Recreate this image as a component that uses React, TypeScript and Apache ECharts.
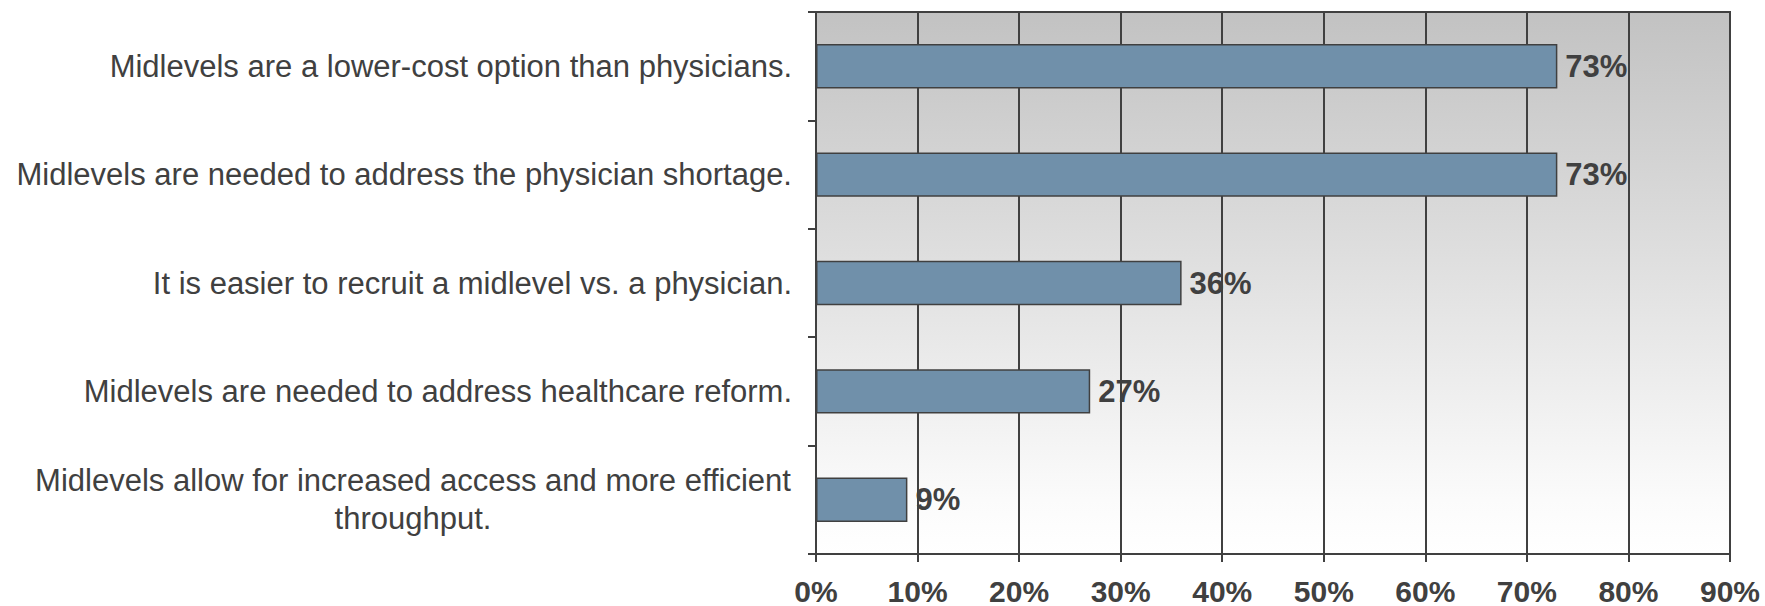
import React, { useEffect, useRef } from "react";
import * as echarts from "echarts";

const categories = [
  "Midlevels are a lower-cost option than physicians.",
  "Midlevels are needed to address the physician shortage.",
  "It is easier to recruit a midlevel vs. a physician.",
  "Midlevels are needed to address healthcare reform.",
  "Midlevels allow for increased access and more efficient\nthroughput.",
];
const values = [73, 73, 36, 27, 9];
const xTicks = [0, 10, 20, 30, 40, 50, 60, 70, 80, 90];

const DARK = "#404040";
const FONT = "Liberation Sans, Arial, sans-serif";
const CAT_SIZE = 31;

export default function App() {
  const ref = useRef<HTMLDivElement>(null);
  useEffect(() => {
    if (!ref.current) return;
    const chart = echarts.init(ref.current, undefined, { renderer: "svg" });
    chart.setOption({
      animation: false,
      grid: {
        left: 816,
        right: 35,
        top: 12,
        bottom: 52,
        show: true,
        borderColor: DARK,
        borderWidth: 2,
        backgroundColor: new echarts.graphic.LinearGradient(0, 0, 0, 1, [
          { offset: 0, color: "#C2C2C2" },
          { offset: 0.9, color: "#FBFBFB" },
          { offset: 1, color: "#FFFFFF" },
        ]),
      },
      xAxis: {
        type: "value",
        min: xTicks[0],
        max: xTicks[xTicks.length - 1],
        interval: 10,
        axisLine: { show: true, lineStyle: { color: DARK, width: 2 } },
        axisTick: { show: true, length: 8, lineStyle: { color: DARK, width: 2 } },
        splitLine: { show: true, lineStyle: { color: DARK, width: 2 } },
        axisLabel: {
          formatter: (v: number) => `${v}%`,
          color: DARK,
          fontFamily: FONT,
          fontWeight: "bold",
          fontSize: 30,
          margin: 22,
        },
      },
      yAxis: {
        type: "category",
        inverse: true,
        data: categories,
        axisLine: { show: true, lineStyle: { color: DARK, width: 2 } },
        axisTick: { show: true, length: 8, lineStyle: { color: DARK, width: 2 } },
        splitLine: { show: false },
        axisLabel: {
          color: DARK,
          fontFamily: FONT,
          fontSize: CAT_SIZE,
          margin: 24,
          lineHeight: 38,
          formatter: (v: string) =>
            v.includes("\n")
              ? v
                  .split("\n")
                  .map((s) => `{c|${s}}`)
                  .join("\n")
              : v,
          rich: {
            c: {
              width: 758,
              align: "center",
              color: DARK,
              fontFamily: FONT,
              fontSize: CAT_SIZE,
              lineHeight: 38,
            },
          },
        },
      },
      series: [
        {
          type: "bar",
          data: values,
          barWidth: "41%",
          itemStyle: { color: "#7090AA", borderColor: DARK, borderWidth: 1.5 },
          label: {
            show: true,
            position: "right",
            distance: 8,
            formatter: "{c}%",
            color: DARK,
            fontFamily: FONT,
            fontWeight: "bold",
            fontSize: 31,
          },
        },
      ],
    });
    return () => chart.dispose();
  }, []);
  return (
    <div
      ref={ref}
      style={{ position: "fixed", left: 0, top: 0, width: 1765, height: 606, background: "#fff" }}
    />
  );
}
